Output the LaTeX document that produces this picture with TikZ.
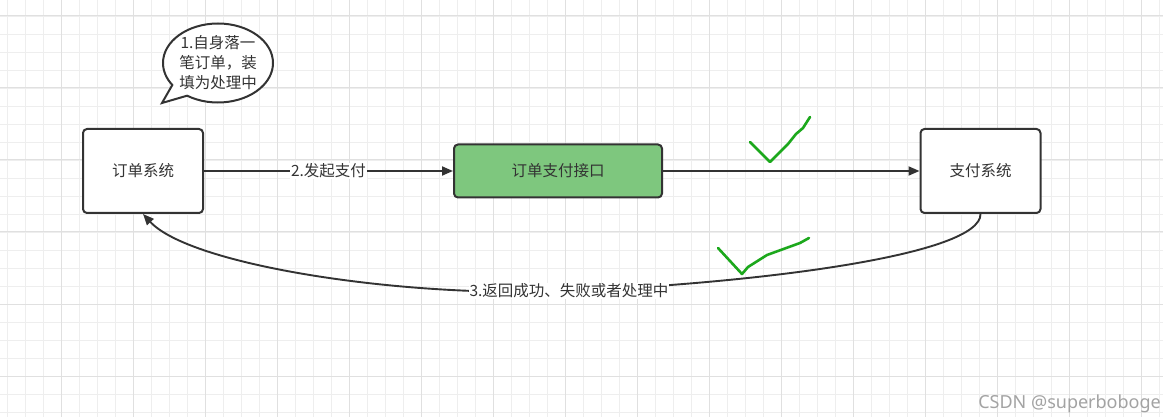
\documentclass[tikz,border=0pt]{standalone}
\usepackage{fontspec}
\newfontfamily\cjk{Noto Sans CJK SC}
\newfontfamily\wmfont{Noto Sans}
\usetikzlibrary{arrows.meta,shapes.callouts}
\definecolor{ink}{HTML}{333333}
\definecolor{gridminor}{HTML}{EEEEEE}
\definecolor{gridmajor}{HTML}{E0E0E0}
\definecolor{boxgreen}{RGB}{126,199,126}
\definecolor{tick}{RGB}{28,168,28}
\definecolor{wm}{HTML}{A3A3A3}
\tikzset{
  sysbox/.style={draw=ink, line width=2pt, rounded corners=4pt, fill=white,
    minimum width=120pt, minimum height=84pt, font=\cjk\fontsize{15.5}{18}\selectfont, text=ink},
  apibox/.style={draw=ink, line width=2pt, rounded corners=4pt, fill=boxgreen,
    minimum width=208pt, minimum height=53pt, font=\cjk\fontsize{15.5}{18}\selectfont, text=ink},
  conn/.style={draw=ink, line width=1.9pt, -{Triangle[length=11pt,width=9pt]}},
  lbl/.style={fill=white, inner sep=1pt, font=\cjk\fontsize{15.5}{18}\selectfont, text=ink},
  bubble/.style={ellipse callout, draw=ink, line width=2pt, fill=white,
    minimum width=110pt, minimum height=79pt, inner sep=0pt, align=center,
    callout pointer arc=22,
    font=\cjk\fontsize{15.5}{20}\selectfont, text=ink},
  tickline/.style={draw=tick, line width=2.6pt, line cap=round, line join=round},
}
\begin{document}
\begin{tikzpicture}[x=1pt,y=-1pt]
\useasboundingbox (0,0) rectangle (1163,417);
\fill[white] (0,0) rectangle (1163,417);
% grid
\foreach \x in {7.7,25.7,...,1163} \draw[gridminor, line width=0.9pt] (\x,0) -- (\x,417);
\foreach \y in {16,34,...,417} \draw[gridminor, line width=0.9pt] (0,\y) -- (1163,\y);
\foreach \x in {61.7,133.7,...,1163} \draw[gridmajor, line width=1pt] (\x,0) -- (\x,417);
\foreach \y in {16,88,...,417} \draw[gridmajor, line width=1pt] (0,\y) -- (1163,\y);

% nodes
\node[sysbox] (dd) at (143,171) {订单系统};
\node[apibox] (api) at (558,171) {订单支付接口};
\node[sysbox] (zf) at (980.5,171) {支付系统};
\coordinate (tip) at (162,103);
\node[bubble, callout absolute pointer={(tip)}] (bub) at (218,63)
  {1.自身落一\\笔订单，装\\填为处理中};

% connectors
\draw[conn] (dd.east) -- node[lbl] (l2) {2.发起支付} (api.west);
\draw[conn] (api.east) -- (zf.west);
\coordinate (mid) at (569,291);
\draw[conn] (zf.south) .. controls (981,255) and (760,283) .. (mid)
  .. controls (400,298) and (190,265) .. (dd.south);
\node[lbl] (l3) at (mid) {3.返回成功、失败或者处理中};

% check marks
\draw[tickline] (750,142) -- (770,162) -- (788,144) -- (796,134) -- (803,128) -- (810,117);
\draw[tickline] (718,248) -- (742,274) -- (748,267) -- (767,255) -- (800,243) -- (809,238);

% watermark
\node[anchor=east, text=wm, font=\wmfont\fontsize{18}{20}\selectfont, inner sep=0pt] (wmk) at (1161,404) {CSDN @superboboge};
\end{tikzpicture}
\end{document}
